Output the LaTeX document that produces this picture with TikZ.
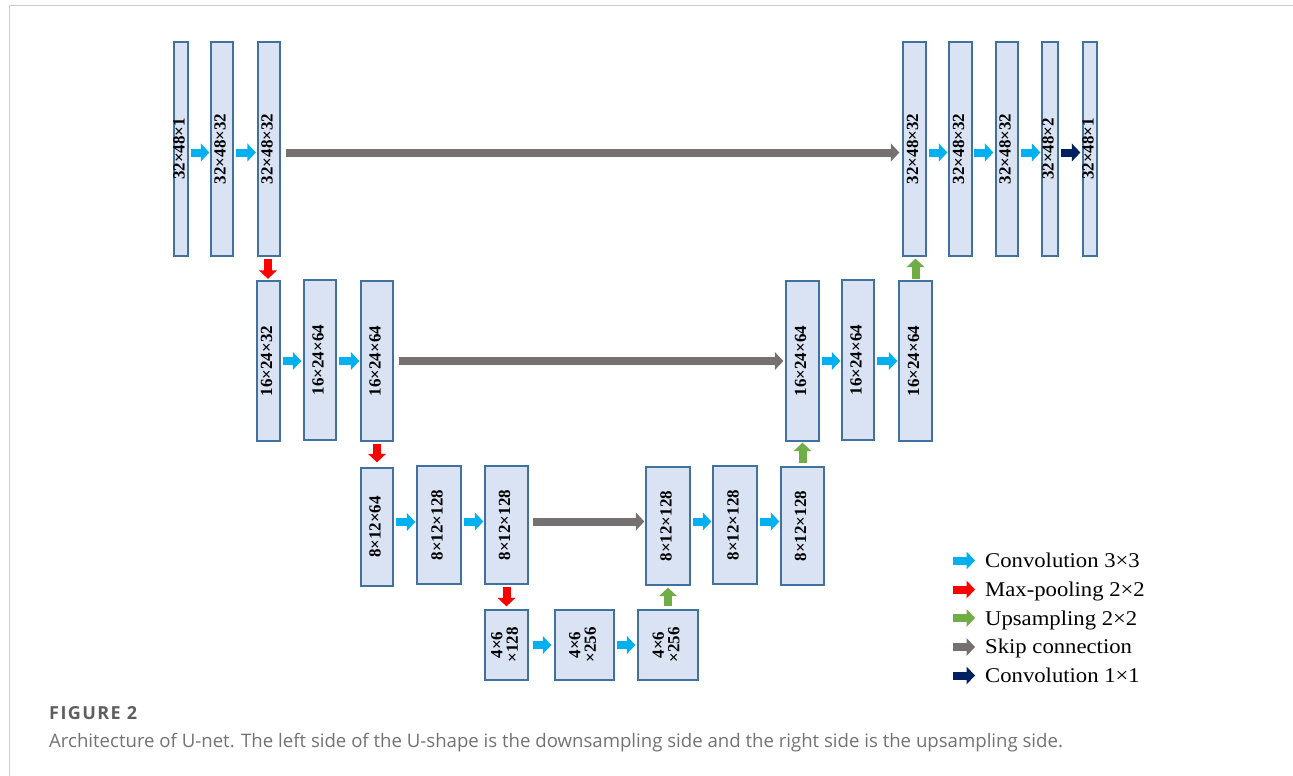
\documentclass[tikz,border=0pt]{standalone}
\usepackage{fontspec}
\setmainfont{Liberation Serif}
\newfontfamily\capfont{Open Sans}
\usetikzlibrary{arrows.meta}

\definecolor{blockfill}{HTML}{DAE3F3}
\definecolor{blockline}{HTML}{41719C}
\definecolor{convc}{HTML}{00B0F0}
\definecolor{poolc}{HTML}{FF0000}
\definecolor{upc}{HTML}{70AD47}
\definecolor{skipc}{HTML}{767171}
\definecolor{onec}{HTML}{002060}
\definecolor{framec}{HTML}{CCCCCC}
\definecolor{capc}{HTML}{5E5E5E}
\definecolor{captxt}{HTML}{727272}

% label written upwards inside a layer box, taking no room of its own
\newcommand\uplabel[1]{\makebox[0pt]{\rotatebox{90}{\raisebox{-1.5pt}{\begin{tabular}{@{}c@{}}#1\end{tabular}}}}}

\tikzset{
  layer/.style={draw=blockline, fill=blockfill, line width=1.3pt, inner sep=0pt,
    font=\fontsize{17}{14}\selectfont\bfseries},
  flow/.style={line width=8pt, -{Triangle[length=8.5pt,width=17.5pt]}},
  conv/.style={flow, draw=convc},
  pool/.style={flow, draw=poolc},
  up/.style={flow, draw=upc},
  skip/.style={flow, draw=skipc},
  conva/.style={flow, draw=onec},
  legtext/.style={anchor=base west, inner sep=0pt, font=\fontsize{21}{24}\selectfont},
}

\begin{document}
\begin{tikzpicture}[x=1pt, y=-1pt]
\useasboundingbox (0,0) rectangle (1293,776);

% outer frame
\draw[framec, line width=1.5pt] (9.5,776) -- (9.5,5.5) -- (1293,5.5);

% ---- encoder, level 1 ----
\node[layer, minimum width=14pt, minimum height=214pt] (a1) at (181,149) {\uplabel{32×48×1}};
\node[layer, minimum width=22pt, minimum height=214pt] (a2) at (222,149) {\uplabel{32×48×32}};
\node[layer, minimum width=22pt, minimum height=214pt] (a3) at (269,149) {\uplabel{32×48×32}};
% ---- decoder, level 1 ----
\node[layer, minimum width=23pt, minimum height=214pt] (r1) at (914.5,149) {\uplabel{32×48×32}};
\node[layer, minimum width=23pt, minimum height=214pt] (r2) at (960.5,149) {\uplabel{32×48×32}};
\node[layer, minimum width=22pt, minimum height=214pt] (r3) at (1007,149) {\uplabel{32×48×32}};
\node[layer, minimum width=16pt, minimum height=214pt] (r4) at (1050,149) {\uplabel{32×48×2}};
\node[layer, minimum width=14pt, minimum height=214pt] (r5) at (1090,149) {\uplabel{32×48×1}};

% ---- level 2 ----
\node[layer, minimum width=23pt, minimum height=160pt] (m1) at (268.5,361) {\uplabel{16×24×32}};
\node[layer, minimum width=32pt, minimum height=160pt] (m2) at (320,360) {\uplabel{16×24×64}};
\node[layer, minimum width=32pt, minimum height=160pt] (m3) at (377,361) {\uplabel{16×24×64}};
\node[layer, minimum width=33pt, minimum height=160pt] (n1) at (802.5,361) {\uplabel{16×24×64}};
\node[layer, minimum width=32pt, minimum height=160pt] (n2) at (858,360) {\uplabel{16×24×64}};
\node[layer, minimum width=33pt, minimum height=160pt] (n3) at (915.5,361) {\uplabel{16×24×64}};

% ---- level 3 ----
\node[layer, minimum width=32pt, minimum height=118pt] (l1) at (377,527) {\uplabel{8×12×64}};
\node[layer, minimum width=44pt, minimum height=118pt] (l2) at (439,525) {\uplabel{8×12×128}};
\node[layer, minimum width=43pt, minimum height=118pt] (l3) at (506.5,525) {\uplabel{8×12×128}};
\node[layer, minimum width=44pt, minimum height=118pt] (k1) at (668,526) {\uplabel{8×12×128}};
\node[layer, minimum width=44pt, minimum height=118pt] (k2) at (735,525) {\uplabel{8×12×128}};
\node[layer, minimum width=43pt, minimum height=118pt] (k3) at (802.5,526) {\uplabel{8×12×128}};

% ---- bottleneck ----
\node[layer, minimum width=43pt, minimum height=70pt] (b1) at (506.5,645) {\uplabel{4×6\\×128}};
\node[layer, minimum width=59pt, minimum height=70pt] (b2) at (584.5,645) {\uplabel{4×6\\×256}};
\node[layer, minimum width=60pt, minimum height=70pt] (b3) at (668,645) {\uplabel{4×6\\×256}};

% ---- 3x3 convolutions ----
\draw[conv, shorten <=2pt, shorten >=1pt] ([yshift=-3.5pt]a1.east) -- ([yshift=-3.5pt]a1.east -| a2.west);
\draw[conv, shorten <=2pt, shorten >=1.5pt] ([yshift=-3.5pt]a2.east) -- ([yshift=-3.5pt]a2.east -| a3.west);
\draw[conv, shorten <=2pt, shorten >=1pt] ([yshift=-3.5pt]r1.east) -- ([yshift=-3.5pt]r1.east -| r2.west);
\draw[conv, shorten <=1pt, shorten >=2pt] ([yshift=-3.5pt]r2.east) -- ([yshift=-3.5pt]r2.east -| r3.west);
\draw[conv, shorten <=2pt, shorten >=1pt] ([yshift=-3.5pt]r3.east) -- ([yshift=-3.5pt]r3.east -| r4.west);
\draw[conva, shorten <=2pt, shorten >=2pt] ([yshift=-3.5pt]r4.east) -- ([yshift=-3.5pt]r4.east -| r5.west);

\draw[conv, shorten <=2pt, shorten >=2pt] (m1.east) -- (m1.east -| m2.west);
\draw[conv, shorten <=2pt, shorten >=1pt] (m3.west -| m2.east) -- (m3.west);
\draw[conv, shorten <=2pt, shorten >=1pt] (n1.east) -- (n1.east -| n2.west);
\draw[conv, shorten <=2pt, shorten >=1pt] (n3.west -| n2.east) -- (n3.west);

\draw[conv, shorten <=2pt, shorten >=1pt] ([yshift=5pt]l1.east) -- ([yshift=5pt]l1.east -| l2.west);
\draw[conv, shorten <=2pt, shorten >=1pt] ([yshift=3.5pt]l2.east) -- ([yshift=3.5pt]l2.east -| l3.west);
\draw[conv, shorten <=2pt, shorten >=1pt] ([yshift=4.5pt]k1.east) -- ([yshift=4.5pt]k1.east -| k2.west);
\draw[conv, shorten <=2pt, shorten >=1pt] ([yshift=3.5pt]k2.east) -- ([yshift=3.5pt]k2.east -| k3.west);

\draw[conv, shorten <=4pt, shorten >=3pt] (b1.east) -- (b2.west);
\draw[conv, shorten <=2pt, shorten >=2pt] (b2.east) -- (b3.west);

% ---- max-pooling ----
\draw[pool, shorten <=2pt, shorten >=1.5pt] ([xshift=-1pt]a3.south) -- ([xshift=-1pt]a3.south |- m1.north);
\draw[pool, shorten <=2pt, shorten >=5pt] (m3.south) -- (m3.south |- l1.north);
\draw[pool, shorten <=2pt, shorten >=3pt] (l3.south) -- (l3.south |- b1.north);

% ---- upsampling ----
\draw[up, shorten <=3pt, shorten >=2pt] (b3.north) -- (b3.north |- k1.south);
\draw[up, shorten <=3pt, shorten >=1pt] (k3.north) -- (k3.north |- n1.south);
\draw[up, shorten <=1pt, shorten >=2pt] (n3.north) -- (n3.north |- r1.south);

% ---- skip connections ----
\draw[skip, shorten <=5pt, shorten >=3pt] ([yshift=-3.5pt]a3.east) -- ([yshift=-3.5pt]a3.east -| r1.west);
\draw[skip, shorten <=5pt, shorten >=2pt] (m3.east) -- (m3.east -| n1.west);
\draw[skip, shorten <=4pt, shorten >=1pt] ([yshift=3.5pt]l3.east) -- ([yshift=3.5pt]l3.east -| k1.west);

% ---- legend ----
\foreach \nm/\yy in {c/560.5, p/589.5, u/618, s/647, o/675.5}{
  \coordinate (\nm0) at (953,\yy);
  \coordinate (\nm1) at (975,\yy);
}
\draw[conv] (c0) -- (c1);
\draw[pool] (p0) -- (p1);
\draw[up] (u0) -- (u1);
\draw[skip] (s0) -- (s1);
\draw[conva] (o0) -- (o1);
\node[legtext] (lc) at (985,567) {\scalebox{1.08}[1]{Convolution 3×3}};
\node[legtext] (lp) at (985,596.5) {\scalebox{1.08}[1]{Max-pooling 2×2}};
\node[legtext] (lu) at (985,625) {\scalebox{1.08}[1]{Upsampling 2×2}};
\node[legtext] (ls) at (985,653.5) {\scalebox{1.08}[1]{Skip connection}};
\node[legtext] (lo) at (985,682) {\scalebox{1.08}[1]{Convolution 1×1}};

% ---- caption ----
\node[anchor=base west, inner sep=0pt, text=capc,
  font=\capfont\bfseries\fontsize{18}{20}\selectfont\addfontfeatures{LetterSpace=8}] (fig) at (49,719) {FIGURE 2};
\node[anchor=base west, inner sep=0pt, text=captxt, font=\capfont\fontsize{18.6}{20}\selectfont] (cap) at (49,747)
  {Architecture of U-net. The left side of the U-shape is the downsampling side and the right side is the upsampling side.};
\end{tikzpicture}
\end{document}
